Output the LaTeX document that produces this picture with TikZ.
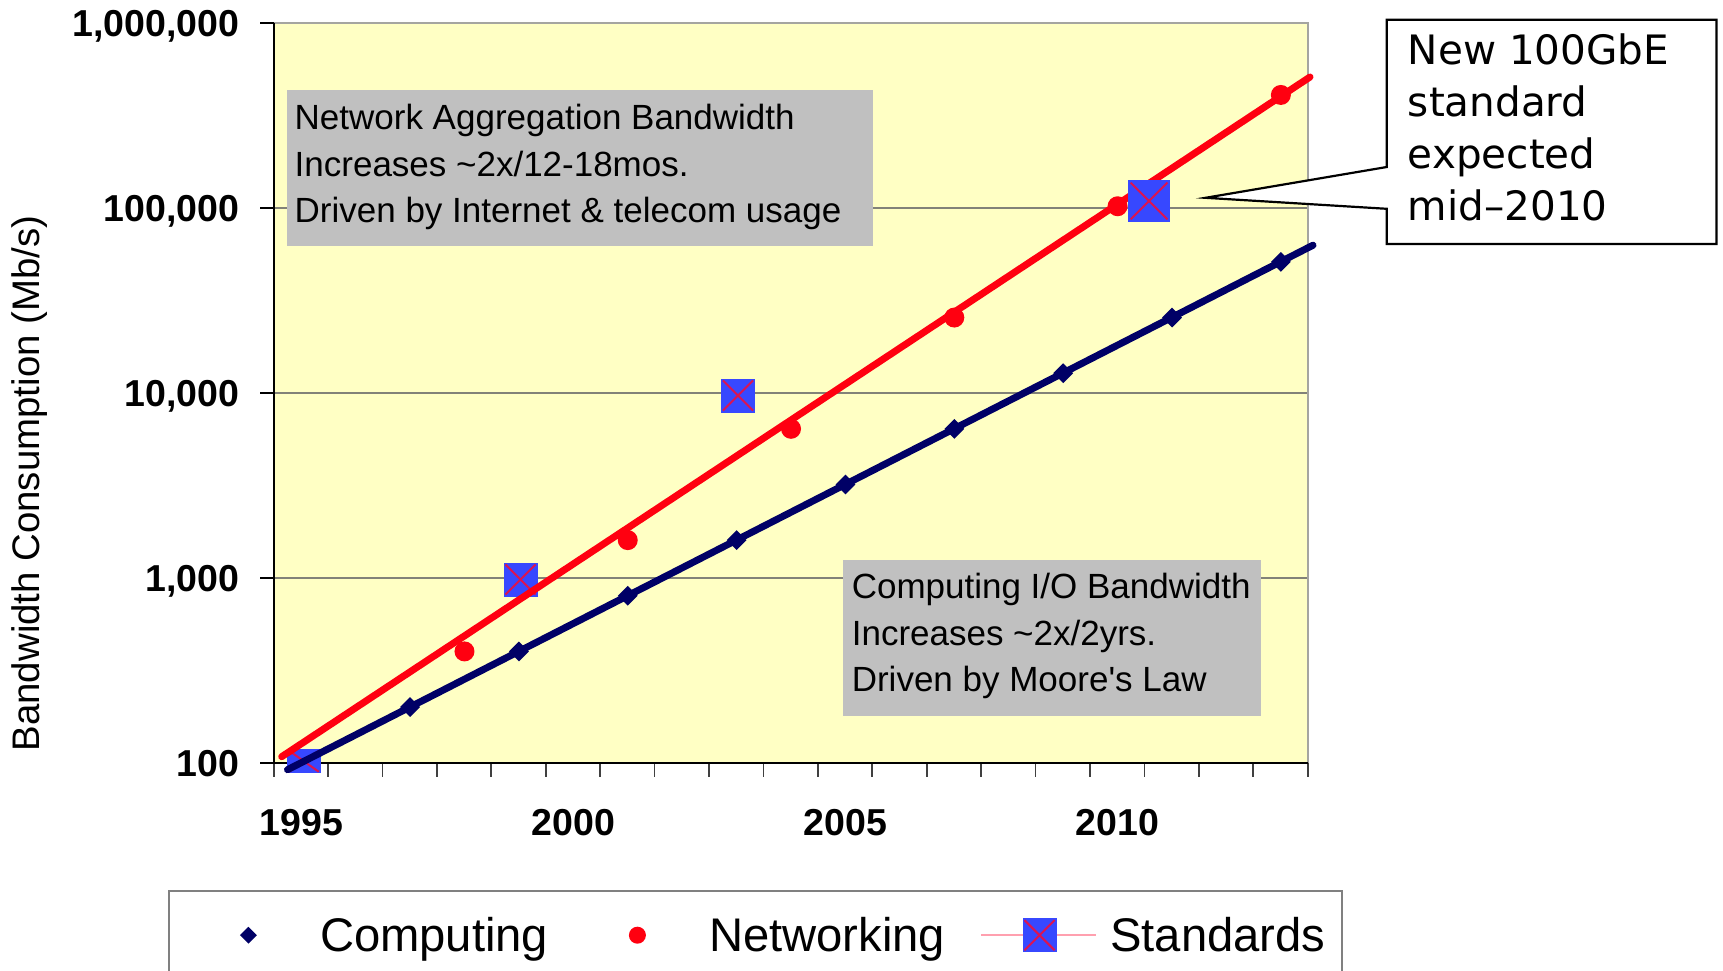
\documentclass[tikz,border=0pt]{standalone}
\usepackage{fontspec}
\setmainfont{Liberation Sans}
\newfontfamily\calloutfont{DejaVu Sans}
\usetikzlibrary{shapes.geometric}

\definecolor{plotbg}{RGB}{255,255,196}
\definecolor{gridgray}{RGB}{130,130,120}
\definecolor{framegray}{RGB}{165,165,160}
\definecolor{boxgray}{RGB}{192,192,192}
\definecolor{compnavy}{RGB}{0,0,102}
\definecolor{netred}{RGB}{255,0,16}
\definecolor{stdblue}{RGB}{55,72,255}
\definecolor{stdcross}{RGB}{220,20,80}
\definecolor{stdpink}{RGB}{255,160,175}
\definecolor{legendgray}{RGB}{128,128,128}

% straight apostrophe glyph, bypassing the TeX quote mapping
\newcommand{\straightquote}{\XeTeXglyph\XeTeXcharglyph"27\relax}

\begin{document}
\begin{tikzpicture}[x=1pt,y=-1pt,
  grid/.style={draw=gridgray,line width=1.5pt},
  frame/.style={draw=framegray,line width=1.6pt},
  axis/.style={draw=black,line width=2pt},
  xtick/.style={draw=black!75,line width=1.8pt},
  ylab/.style={anchor=base east,inner sep=0pt,font=\bfseries\fontsize{37.5}{45}\selectfont},
  xlab/.style={anchor=base,inner sep=0pt,font=\bfseries\fontsize{37.5}{45}\selectfont},
  ytitle/.style={inner sep=0pt,rotate=90,font=\fontsize{38.4}{46}\selectfont},
  graybox/.style={rectangle,fill=boxgray,inner sep=0pt,anchor=north west},
  boxtext/.style={anchor=base west,inner sep=0pt,font=\fontsize{35}{42}\selectfont},
  computeline/.style={draw=compnavy,line width=7pt,line cap=round},
  netline/.style={draw=netred,line width=7pt,line cap=round},
  compmark/.style={diamond,fill=compnavy,inner sep=0pt,minimum size=20pt},
  netmark/.style={circle,fill=netred,inner sep=0pt,minimum size=20pt},
  stdsq/.style={rectangle,fill=stdblue,inner sep=0pt,minimum size=34pt},
  stdx/.style={draw=stdcross,line width=2pt},
  calltext/.style={anchor=base west,inner sep=0pt,font=\calloutfont\fontsize{40.5}{48}\selectfont},
  legtext/.style={anchor=base west,inner sep=0pt,font=\fontsize{47.2}{56}\selectfont}
]
\useasboundingbox (0,0) rectangle (1723,971);
\fill[white] (0,0) rectangle (1723,971);

% plot area, grid and frame
\fill[plotbg] (273.6,23.3) rectangle (1307.7,762.7);
\foreach \gy in {208.15,393.0,577.85}
  \draw[grid] (273.6,\gy) -- (1307.7,\gy);
\draw[frame] (273.6,23.3) -- (1307.7,23.3) -- (1307.7,762.7);

% ticks and axes
\foreach \gy in {23.3,208.15,393.0,577.85,762.7}
  \draw[axis] (260,\gy) -- (273.6,\gy);
\foreach \k in {0,...,19}
  \draw[xtick] ({273.6+54.425*\k},762.7) -- ({273.6+54.425*\k},776.5);
\draw[axis] (273.6,23.3) -- (273.6,762.7) -- (1307.7,762.7);

% axis labels
\node[ylab] (ya) at (239.6,37.0) {1,000,000};
\node[ylab] (yb) at (239.6,221.85) {100,000};
\node[ylab] (yc) at (239.6,406.7) {10,000};
\node[ylab] (yd) at (239.6,591.55) {1,000};
\node[ylab] (ye) at (239.6,776.4) {100};
\node[xlab] (xa) at (301.2,835.5) {1995};
\node[xlab] (xb) at (573.3,835.5) {2000};
\node[xlab] (xc) at (845.4,835.5) {2005};
\node[xlab] (xd) at (1117.5,835.5) {2010};
\node[ytitle] (yt) at (29.7,483.5) {Bandwidth Consumption (Mb/s)};

% annotation boxes
\node[graybox,minimum width=585.7pt,minimum height=156.1pt] (netbox) at (286.8,90.1) {};
\node[boxtext] (neta) at (294.5,129.0) {Network Aggregation Bandwidth};
\node[boxtext] (netb) at (294.5,176.2) {Increases \char"7E 2x/12-18mos.};
\node[boxtext] (netc) at (294.5,222.4) {Driven by Internet \& telecom usage};
\node[graybox,minimum width=417.6pt,minimum height=156.1pt] (compbox) at (842.8,559.3) {};
\node[boxtext] (compa) at (851.6,598.2) {Computing I/O Bandwidth};
\node[boxtext] (compb) at (851.6,645.5) {Increases \char"7E 2x/2yrs.};
\node[boxtext] (compc) at (851.6,691.6) {Driven by Moore\straightquote s Law};

% standards markers under the trend lines
\node[stdsq,minimum height=24pt] (s95) at (304,761.3) {};
\node[stdsq] (s99) at (520.5,579.5) {};
\node[stdsq] (s03) at (738,395.5) {};
\foreach \s in {s95,s99,s03} {
  \draw[stdx,shorten <=3pt,shorten >=3pt] (\s.north west) -- (\s.south east);
  \draw[stdx,shorten <=3pt,shorten >=3pt] (\s.north east) -- (\s.south west);
}

% trend lines
\coordinate (netstart) at (281.7,756.7);
\coordinate (netend) at (1310,77);
\draw[netline] (netstart) -- (netend);
\coordinate (compstart) at (287.5,769.7);
\coordinate (compend) at (1313,245.2);
\draw[computeline] (compstart) -- (compend);

% networking data points
\foreach \k in {0,...,5}
  \node[netmark] (n\k) at ({301.2+54.425*(3+3*\k)},{762.7-111.29*(\k+1)}) {};

% computing data points
\foreach \k in {1,...,9}
  \node[compmark] (c\k) at ({301.2+54.425*2*\k},{762.7-55.64*\k}) {};

% 100GbE standard marker
\node[stdsq,minimum size=42pt] (s10) at (1149,201) {};
\draw[stdx,shorten <=4pt,shorten >=4pt] (s10.north west) -- (s10.south east);
\draw[stdx,shorten <=4pt,shorten >=4pt] (s10.north east) -- (s10.south west);

% callout
\coordinate (calltip) at (1205.5,197.8);
\filldraw[fill=white,draw=black,line width=2.2pt,line join=miter]
  (1386.8,19.8) -- (1716.5,19.8) -- (1716.5,244) -- (1386.8,244)
  -- (1386.8,208.8) -- (calltip) -- (1386.8,167) -- cycle;
\node[calltext] (cla) at (1407.7,65) {New 100GbE};
\node[calltext] (clb) at (1407.7,117) {standard};
\node[calltext] (clc) at (1407.7,168) {expected};
\node[calltext] (cld) at (1407.7,220) {mid\char"2013 2010};

% legend
\draw[draw=legendgray,line width=2pt] (169.2,975) -- (169.2,891.2) -- (1341.8,891.2) -- (1341.8,975);
\node[compmark,minimum size=17pt] (lc) at (248.4,935.2) {};
\node[legtext] (lct) at (319.8,951.5) {Computing};
\node[netmark,minimum size=17pt] (ln) at (637.4,935.2) {};
\node[legtext] (lnt) at (708.8,951.5) {Networking};
\coordinate (lsa) at (981.3,935.2);
\coordinate (lsb) at (1095.6,935.2);
\draw[draw=stdpink,line width=2pt] (lsa) -- (lsb);
\node[stdsq] (ls) at (1039.6,935.2) {};
\draw[stdx,shorten <=3pt,shorten >=3pt] (ls.north west) -- (ls.south east);
\draw[stdx,shorten <=3pt,shorten >=3pt] (ls.north east) -- (ls.south west);
\node[legtext] (lst) at (1110,951.5) {Standards};
\end{tikzpicture}
\end{document}
